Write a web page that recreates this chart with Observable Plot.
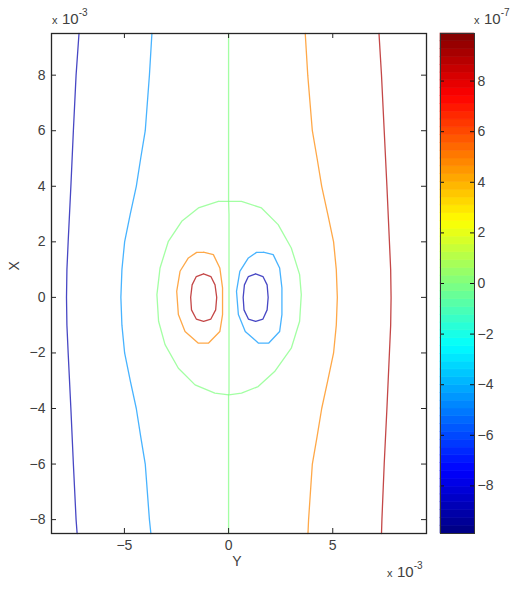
<!DOCTYPE html>
<html><head><meta charset="utf-8">
<script src="https://cdn.jsdelivr.net/npm/d3@7"></script>
<script src="https://cdn.jsdelivr.net/npm/@observablehq/plot@0.6"></script>
<style>
body{margin:0;background:#fff;}
#wrap{position:relative;width:513px;height:590px;font-family:"Liberation Sans",Arial,sans-serif;color:#404040;overflow:hidden;}
#wrap > div.chart{position:absolute;top:0;}
.mult{position:absolute;white-space:nowrap;line-height:1;color:#404040;}
.mult .sx{font-size:11px;}
.mult .ten{font-size:15px;}
.mult sup{font-size:10px;position:relative;top:-2px;}
</style></head><body><div id="wrap"></div>
<script>
// ---- axes (Y horizontal, X vertical), values in units of 1e-3 ----
const xDomain = [-8.5, 9.5];
const yDomain = [-8.5, 9.5];
const xTicks = [-5, 0, 5];
const yTicks = [-8, -6, -4, -2, 0, 2, 4, 6, 8];
// ---- colorbar, values in units of 1e-7 ----
const cbDomain = [-9.88, 9.88];
const cbTicks = [-8, -6, -4, -2, 0, 2, 4, 6, 8];

// ---- contour levels (1e-7) ----
const levelNegOuter = -9;
const levelNegInner = -4.5;
const levelZero = 0;
const levelPosInner = 4.8;
const levelPosOuter = 9;

// ---- contour lines: [Y, X] in 1e-3 ----
const lineLeftOuter = [[-7.18,9.5],[-7.32,8],[-7.45,6],[-7.57,4],[-7.7,2],[-7.76,1],[-7.78,0],[-7.76,-1],[-7.7,-2],[-7.57,-4],[-7.45,-6],[-7.32,-8],[-7.27,-8.5]];
const lineLeftMid = [[-3.68,9.5],[-3.8,8],[-4.0,6],[-4.22,5],[-4.43,4],[-4.72,3],[-4.99,2],[-5.12,1],[-5.17,0],[-5.12,-1],[-4.99,-2],[-4.72,-3],[-4.43,-4],[-4.22,-5],[-4.0,-6],[-3.8,-8],[-3.73,-8.5]];
const lineRightMid = [[3.68,9.5],[3.8,8],[4.02,6],[4.25,5],[4.47,4],[4.76,3],[5.04,2],[5.17,1],[5.22,0],[5.17,-1],[5.04,-2],[4.76,-3],[4.47,-4],[4.25,-5],[4.02,-6],[3.84,-8],[3.81,-8.5]];
const lineRightOuter = [[7.22,9.5],[7.34,8],[7.47,6],[7.6,4],[7.72,2],[7.78,1],[7.8,0],[7.78,-1],[7.72,-2],[7.6,-4],[7.47,-6],[7.36,-8],[7.34,-8.5]];
const lineZeroAxis = [[0,9.5],[0,3.46],[0.02,3.0],[0.02,-3.46],[0,-3.5],[0,-8.5]];
const loopZero = [[-0.49,3.46],[-1.45,3.22],[-2.25,2.74],[-2.89,2.02],[-3.29,1.06],[-3.44,0.1],[-3.36,-0.86],[-3.05,-1.7],[-2.41,-2.55],[-1.61,-3.15],[-0.66,-3.45],[0.01,-3.51],[0.62,-3.45],[1.42,-3.21],[2.21,-2.67],[3.01,-1.83],[3.41,-0.86],[3.49,0.1],[3.41,0.82],[3.01,1.78],[2.38,2.62],[1.58,3.22],[0.62,3.46],[0.02,3.46],[-0.49,3.46]];
const loopLeftMid = [[-1.21,1.63],[-0.73,1.54],[-0.42,1.06],[-0.29,0.34],[-0.29,-0.62],[-0.42,-1.23],[-0.97,-1.65],[-1.45,-1.65],[-2.09,-1.23],[-2.41,-0.62],[-2.49,0.22],[-2.33,0.94],[-1.93,1.42],[-1.53,1.62],[-1.21,1.63]];
const loopLeftInner = [[-1.2,0.85],[-0.85,0.75],[-0.65,0.45],[-0.57,0],[-0.62,-0.45],[-0.85,-0.78],[-1.2,-0.86],[-1.55,-0.78],[-1.78,-0.45],[-1.82,0],[-1.75,0.45],[-1.55,0.75],[-1.2,0.85]];
const loopRightMid = [[1.66,1.63],[2.14,1.54],[2.45,1.06],[2.56,0.34],[2.56,-0.62],[2.45,-1.23],[1.92,-1.65],[1.44,-1.65],[0.8,-1.23],[0.47,-0.62],[0.38,0.22],[0.54,0.94],[0.95,1.42],[1.34,1.62],[1.66,1.63]];
const loopRightInner = [[1.3,0.85],[1.65,0.75],[1.85,0.45],[1.9,0],[1.85,-0.45],[1.65,-0.78],[1.3,-0.86],[0.95,-0.78],[0.74,-0.45],[0.7,0],[0.76,0.45],[0.95,0.75],[1.3,0.85]];

const contours = [
  [lineLeftOuter, levelNegOuter],
  [lineLeftMid, levelNegInner],
  [lineZeroAxis, levelZero],
  [loopZero, levelZero],
  [lineRightMid, levelPosInner],
  [lineRightOuter, levelPosOuter],
  [loopLeftMid, levelPosInner],
  [loopLeftInner, levelPosOuter],
  [loopRightMid, levelNegInner],
  [loopRightInner, levelNegOuter]
];
const rows = contours.flatMap(([pts, level], id) => pts.map(([x, y]) => ({x, y, level, id})));

// MATLAB-like jet colormap
const clamp = v => Math.max(0, Math.min(1, v));
const jet = t => d3.rgb(255*clamp(1.5-Math.abs(4*t-3)), 255*clamp(1.5-Math.abs(4*t-2)), 255*clamp(1.5-Math.abs(4*t-1))).formatHex();
const levelColor = v => jet((v - cbDomain[0]) / (cbDomain[1] - cbDomain[0]));

const font = '"Liberation Sans", Arial, sans-serif';
const ink = "#262626";
const W = 440, H = 590, mL = 51, mR = 14, mT = 33, mB = 57;
const innerW = W - mL - mR, innerH = H - mT - mB, tick = 5;

const main = Plot.plot({
  width: W, height: H, marginLeft: mL, marginRight: mR, marginTop: mT, marginBottom: mB,
  style: {fontFamily: font, fontSize: "14px", color: "#404040", background: "transparent"},
  x: {domain: xDomain},
  y: {domain: yDomain},
  marks: [
    Plot.line(rows, {x: "x", y: "y", z: "id", stroke: d => levelColor(d.level), strokeWidth: 1.3, strokeOpacity: 0.72}),
    Plot.ruleX(xTicks, {x: d => d, insetTop: innerH - tick, stroke: ink}),
    Plot.ruleX(xTicks, {x: d => d, insetBottom: innerH - tick, stroke: ink}),
    Plot.ruleY(yTicks, {y: d => d, insetRight: innerW - tick, stroke: ink}),
    Plot.ruleY(yTicks, {y: d => d, insetLeft: innerW - tick, stroke: ink}),
    Plot.frame({stroke: ink, strokeWidth: 1.3}),
    Plot.axisX(xTicks, {anchor: "bottom", tickSize: 0, tickPadding: 7, label: null, fill: "#404040"}),
    Plot.axisY(yTicks, {anchor: "left", tickSize: 0, tickPadding: 6, label: null, fill: "#404040"}),
    Plot.text(["Y"], {frameAnchor: "bottom", dx: -2, dy: 32, fontSize: 14, fill: "#404040"}),
    Plot.text(["X"], {frameAnchor: "left", dx: -37, dy: -13, rotate: -90, fontSize: 14, fill: "#404040"})
  ]
});

// colorbar
const nBands = 64;
const step = (cbDomain[1] - cbDomain[0]) / nBands;
const bands = d3.range(nBands).map(i => ({y1: cbDomain[0] + i*step, y2: cbDomain[0] + (i+1)*step, c: jet((i + 0.5)/nBands)}));
const CW = 83, cL = 10, barW = 34;
const cb = Plot.plot({
  width: CW, height: H, marginLeft: cL, marginRight: CW - cL - barW, marginTop: mT, marginBottom: mB,
  style: {fontFamily: font, fontSize: "14px", color: "#404040", background: "transparent"},
  x: {domain: [0, 1], axis: null},
  y: {domain: cbDomain},
  marks: [
    Plot.rect(bands, {x1: 0, x2: 1, y1: "y1", y2: "y2", fill: "c", stroke: "c", strokeWidth: 0.6}),
    Plot.ruleY(cbTicks, {y: d => d, insetRight: barW - 4, stroke: "#111"}),
    Plot.ruleY(cbTicks, {y: d => d, insetLeft: barW - 4, stroke: "#111"}),
    Plot.frame({stroke: "#333", strokeWidth: 1}),
    Plot.axisY(cbTicks, {anchor: "right", tickSize: 0, tickPadding: 3, label: null, fill: "#404040"})
  ]
});

const wrap = document.getElementById("wrap");
const d1 = document.createElement("div"); d1.className = "chart"; d1.style.left = "0px"; d1.appendChild(main);
const d2 = document.createElement("div"); d2.className = "chart"; d2.style.left = "430px"; d2.appendChild(cb);
wrap.appendChild(d1); wrap.appendChild(d2);

function mult(txt, exp, left, top) {
  const m = document.createElement("div");
  m.className = "mult";
  m.style.left = left + "px"; m.style.top = top + "px";
  m.innerHTML = `<span class="sx">${txt}</span> <span class="ten">10</span><sup>${exp}</sup>`;
  wrap.appendChild(m);
}
mult("x", "-3", 52, 10);
mult("x", "-3", 387, 563);
mult("x", "-7", 474, 10);
</script>
</body></html>
